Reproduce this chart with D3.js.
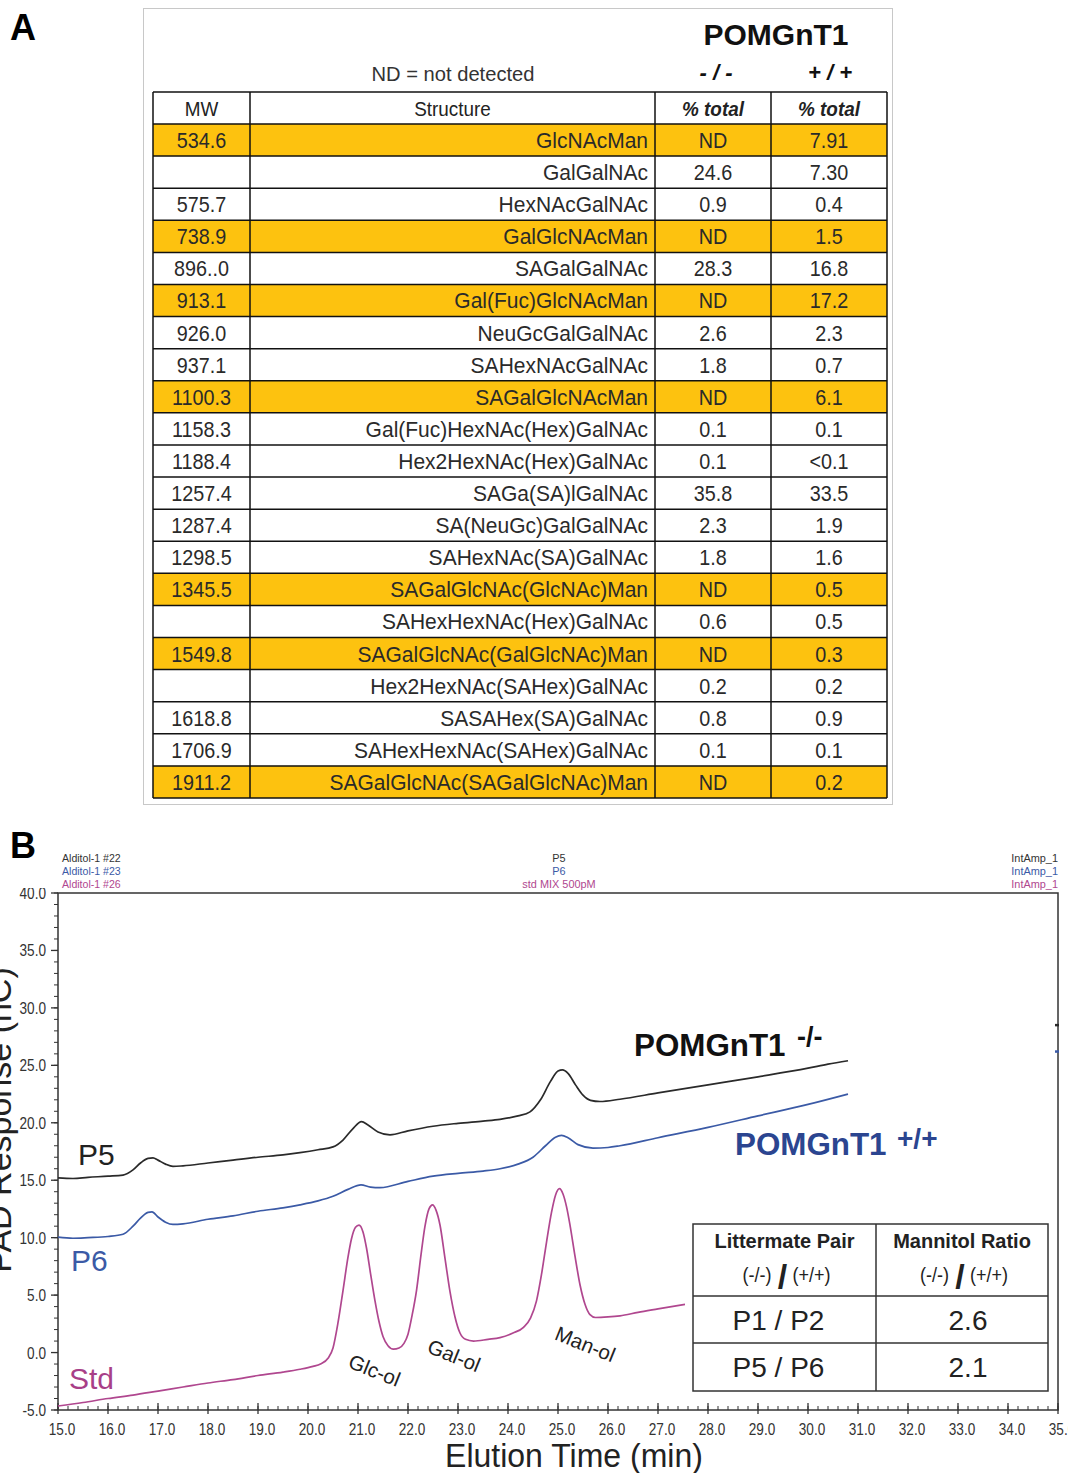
<!DOCTYPE html>
<html>
<head>
<meta charset="utf-8">
<script src="https://cdn.jsdelivr.net/npm/d3@7"></script>
<style>
  html, body { margin: 0; padding: 0; background: #fff; }
  svg { display: block; font-family: "Liberation Sans", Arial, Helvetica, sans-serif; }
</style>
</head>
<body>
<svg id="fig" width="1068" height="1473"></svg>
<script>
// ---------- Panel A: glycan table ----------
const mwValues = ["534.6", "", "575.7", "738.9", "896..0", "913.1", "926.0", "937.1", "1100.3", "1158.3",
  "1188.4", "1257.4", "1287.4", "1298.5", "1345.5", "", "1549.8", "", "1618.8", "1706.9", "1911.2"];
const structures = ["GlcNAcMan", "GalGalNAc", "HexNAcGalNAc", "GalGlcNAcMan", "SAGalGalNAc",
  "Gal(Fuc)GlcNAcMan", "NeuGcGalGalNAc", "SAHexNAcGalNAc", "SAGalGlcNAcMan",
  "Gal(Fuc)HexNAc(Hex)GalNAc", "Hex2HexNAc(Hex)GalNAc", "SAGa(SA)lGalNAc", "SA(NeuGc)GalGalNAc",
  "SAHexNAc(SA)GalNAc", "SAGalGlcNAc(GlcNAc)Man", "SAHexHexNAc(Hex)GalNAc",
  "SAGalGlcNAc(GalGlcNAc)Man", "Hex2HexNAc(SAHex)GalNAc", "SASAHex(SA)GalNAc",
  "SAHexHexNAc(SAHex)GalNAc", "SAGalGlcNAc(SAGalGlcNAc)Man"];
const koPercent = ["ND", "24.6", "0.9", "ND", "28.3", "ND", "2.6", "1.8", "ND", "0.1", "0.1", "35.8",
  "2.3", "1.8", "ND", "0.6", "ND", "0.2", "0.8", "0.1", "ND"];
const wtPercent = ["7.91", "7.30", "0.4", "1.5", "16.8", "17.2", "2.3", "0.7", "6.1", "0.1", "<0.1",
  "33.5", "1.9", "1.6", "0.5", "0.5", "0.3", "0.2", "0.9", "0.1", "0.2"];
const tableHeaders = ["MW", "Structure", "% total", "% total"];

// ---------- Panel B: HPAEC-PAD traces, [elution time (min), response (nC)] ----------
const koTrace = [[15.0,15.2],[15.3,15.15],[15.6,15.25],[16.0,15.35],[16.3,15.45],[16.5,15.9],[16.65,16.5],
  [16.8,16.9],[16.9,16.95],[17.0,16.75],[17.15,16.4],[17.3,16.2],[17.5,16.25],[18.0,16.5],[18.5,16.75],
  [19.0,17.0],[19.5,17.2],[19.84,17.4],[20.2,17.65],[20.5,17.9],[20.7,18.5],[20.9,19.5],[21.07,20.1],
  [21.2,19.8],[21.4,19.2],[21.64,18.95],[22.0,19.3],[22.5,19.7],[23.0,19.95],[23.5,20.15],[23.84,20.3],
  [24.2,20.6],[24.44,20.95],[24.65,22.0],[24.85,23.6],[25.0,24.5],[25.09,24.6],[25.2,24.3],[25.35,23.3],
  [25.5,22.4],[25.65,21.95],[25.84,21.85],[26.24,22.05],[27.0,22.6],[28.0,23.3],[29.0,24.0],[30.0,24.75],
  [30.4,25.1],[30.8,25.4]];
const wtTrace = [[15.0,10.05],[15.3,9.95],[15.6,10.0],[16.0,10.1],[16.3,10.3],[16.5,11.0],[16.65,11.7],
  [16.8,12.2],[16.88,12.25],[17.0,11.8],[17.15,11.35],[17.3,11.15],[17.5,11.2],[18.0,11.6],[18.5,11.9],
  [19.0,12.3],[19.5,12.6],[19.84,12.86],[20.2,13.2],[20.5,13.6],[20.8,14.2],[21.06,14.6],[21.25,14.4],
  [21.44,14.35],[22.0,14.9],[22.5,15.35],[23.0,15.6],[23.5,15.8],[23.84,16.0],[24.2,16.4],[24.5,17.0],
  [24.75,18.0],[24.95,18.75],[25.07,18.9],[25.2,18.7],[25.4,18.1],[25.7,17.8],[26.0,17.85],[26.24,18.0],
  [27.0,18.7],[28.0,19.6],[29.0,20.6],[30.0,21.6],[30.8,22.5]];
const stdTrace = [[15.0,-4.65],[15.5,-4.35],[16.0,-4.0],[16.5,-3.7],[17.0,-3.35],[17.5,-3.0],[18.0,-2.65],
  [18.5,-2.35],[19.0,-2.0],[19.5,-1.7],[19.84,-1.45],[20.1,-1.2],[20.25,-1.0],[20.4,-0.5],[20.5,0.4],
  [20.6,2.6],[20.7,5.4],[20.8,8.3],[20.87,9.9],[20.95,10.9],[21.02,11.1],[21.1,10.5],[21.17,9.1],
  [21.25,6.9],[21.34,4.5],[21.42,2.7],[21.5,1.4],[21.6,0.6],[21.71,0.3],[21.82,0.4],[21.92,0.8],
  [22.0,1.6],[22.08,3.2],[22.17,5.4],[22.26,8.5],[22.34,11.0],[22.42,12.5],[22.49,12.85],[22.56,12.4],
  [22.64,11.1],[22.74,8.2],[22.84,5.3],[22.94,3.1],[23.04,1.7],[23.15,1.15],[23.31,1.0],[23.6,1.15],
  [23.84,1.3],[24.1,1.7],[24.31,2.2],[24.45,3.0],[24.57,4.5],[24.67,6.8],[24.77,9.6],[24.87,12.2],
  [24.95,13.7],[25.03,14.27],[25.1,13.8],[25.17,12.7],[25.24,11.1],[25.34,8.4],[25.44,5.9],[25.54,4.2],
  [25.64,3.3],[25.75,3.05],[26.0,3.1],[26.24,3.2],[26.6,3.5],[27.0,3.8],[27.54,4.2]];
// level of the P5 / P6 trace markers at the right border (35 min)
const endMarks = [[28.5, "#2a2a2a"], [26.2, "#3b5aa6"]];
const peakLabels = [["Glc-ol", 21.0], ["Gal-ol", 22.5], ["Man-ol", 25.05]];
const xTicks = d3.range(15, 35.001, 1);
const yTicks = d3.range(-5, 40.001, 5);
const pairLabels = ["P1 / P2", "P5 / P6"];
const mannitolRatios = ["2.6", "2.1"];

const svg = d3.select("#fig");
svg.append("rect").attr("width", 1068).attr("height", 1473).attr("fill", "#fff");

// text helper: horizontal squeeze lets glyph proportions follow the figure typography
function label(sel, x, y, s, o = {}) {
  return sel.append("text")
    .attr("transform", `translate(${x},${y}) scale(${o.sx || 1},1)` + (o.rotate ? ` rotate(${o.rotate})` : ""))
    .attr("text-anchor", o.anchor || "start")
    .attr("font-size", o.size || 16)
    .attr("font-weight", o.weight || "normal")
    .attr("font-style", o.style || "normal")
    .attr("fill", o.fill || "#222")
    .text(s);
}

// ===== Panel A =====
const A = svg.append("g");
label(A, 10, 40, "A", {size: 36, weight: "bold", fill: "#000"});
A.append("rect").attr("x", 143.5).attr("y", 8.5).attr("width", 749).attr("height", 796)
  .attr("fill", "none").attr("stroke", "#c8c8c8").attr("stroke-width", 1);

const colEdges = [153, 250, 655, 771, 887];
const headerTop = 92, headerBottom = 124;
const rowBand = d3.scaleBand().domain(d3.range(structures.length)).range([headerBottom, 798]);

label(A, 776, 45, "POMGnT1", {size: 30, weight: "bold", anchor: "middle", fill: "#111"});
label(A, 716, 80, "- / -", {size: 22, weight: "bold", style: "italic", anchor: "middle", fill: "#111"});
label(A, 830, 80, "+ / +", {size: 22, weight: "bold", style: "italic", anchor: "middle", fill: "#111"});
label(A, 453, 81, "ND = not detected", {size: 21, anchor: "middle", sx: 0.96, fill: "#333"});

// highlighted (mannose-containing) rows
A.selectAll("rect.hl").data(structures.map((s, i) => ({s, i})).filter(d => d.s.endsWith("Man")))
  .enter().append("rect").attr("class", "hl")
  .attr("x", colEdges[0]).attr("width", colEdges[4] - colEdges[0])
  .attr("y", d => rowBand(d.i)).attr("height", rowBand.bandwidth())
  .attr("fill", "#FDC20F");

// header cells
const headerX = [(colEdges[0] + colEdges[1]) / 2, (colEdges[1] + colEdges[2]) / 2,
  (colEdges[2] + colEdges[3]) / 2, (colEdges[3] + colEdges[4]) / 2];
tableHeaders.forEach((h, j) => {
  const pct = j >= 2;
  label(A, headerX[j], headerTop + 24, h, {size: 21, anchor: "middle", sx: 0.9,
    weight: pct ? "bold" : "normal", style: pct ? "italic" : "normal", fill: "#222"});
});

// body cells
structures.forEach((s, i) => {
  const y = rowBand(i) + 24;
  label(A, headerX[0], y, mwValues[i], {size: 22, anchor: "middle", sx: 0.9, fill: "#2a2a2a"});
  label(A, colEdges[2] - 7, y, s, {size: 22, anchor: "end", sx: 0.955, fill: "#2a2a2a"});
  label(A, headerX[2], y, koPercent[i], {size: 22, anchor: "middle", sx: 0.9, fill: "#2a2a2a"});
  label(A, headerX[3], y, wtPercent[i], {size: 22, anchor: "middle", sx: 0.9, fill: "#2a2a2a"});
});

// grid
const hLines = [headerTop, headerBottom].concat(d3.range(structures.length).map(i => rowBand(i) + rowBand.bandwidth()));
A.selectAll("line.h").data(hLines).enter().append("line")
  .attr("x1", colEdges[0]).attr("x2", colEdges[4]).attr("y1", d => d).attr("y2", d => d)
  .attr("stroke", "#111").attr("stroke-width", 1.5);
A.selectAll("line.v").data(colEdges).enter().append("line")
  .attr("x1", d => d).attr("x2", d => d).attr("y1", headerTop).attr("y2", 798)
  .attr("stroke", "#111").attr("stroke-width", 1.5);

// ===== Panel B =====
const B = svg.append("g");
const x = d3.scaleLinear().domain([15, 35]).range([58, 1058]);
const y = d3.scaleLinear().domain([-5, 40]).range([1410, 893]);

// y axis: minor ticks every 1, major every 5
B.selectAll("line.ym").data(d3.range(-5, 40.001, 1)).enter().append("line")
  .attr("x1", x(15) - 4).attr("x2", x(15)).attr("y1", d => y(d)).attr("y2", d => y(d))
  .attr("stroke", "#333").attr("stroke-width", 1);
B.selectAll("line.yM").data(yTicks).enter().append("line")
  .attr("x1", x(15) - 7).attr("x2", x(15)).attr("y1", d => y(d)).attr("y2", d => y(d))
  .attr("stroke", "#333").attr("stroke-width", 1.3);
yTicks.forEach(v => label(B, 46, y(v) + 6, v.toFixed(1), {size: 17, anchor: "end", sx: 0.8, fill: "#333"}));

// x axis: minor ticks every 0.2, major every 1
B.selectAll("line.xm").data(d3.range(15, 35.001, 0.2)).enter().append("line")
  .attr("x1", d => x(d)).attr("x2", d => x(d)).attr("y1", y(-5) - 4).attr("y2", y(-5))
  .attr("stroke", "#333").attr("stroke-width", 1);
B.selectAll("line.xM").data(xTicks).enter().append("line")
  .attr("x1", d => x(d)).attr("x2", d => x(d)).attr("y1", y(-5) - 7).attr("y2", y(-5) + 4)
  .attr("stroke", "#333").attr("stroke-width", 1.3);
xTicks.forEach(v => label(B, x(v) + 4, 1435, v.toFixed(1), {size: 17, anchor: "middle", sx: 0.8, fill: "#333"}));

// frame
B.append("rect").attr("x", x(15)).attr("y", y(40)).attr("width", x(35) - x(15)).attr("height", y(-5) - y(40))
  .attr("fill", "none").attr("stroke", "#333").attr("stroke-width", 1.5);
B.selectAll("line.end").data(endMarks).enter().append("line")
  .attr("x1", x(35) - 3).attr("x2", x(35) + 1).attr("y1", d => y(d[0])).attr("y2", d => y(d[0]))
  .attr("stroke", d => d[1]).attr("stroke-width", 2.5);

// mask above the frame (covers top of the 40.0 label), then header text
B.append("rect").attr("x", 0).attr("y", 835).attr("width", 1068).attr("height", 53).attr("fill", "#fff");
label(B, 10, 858, "B", {size: 36, weight: "bold", fill: "#000"});
const hdrColors = ["#333", "#3b5aa6", "#b0478f"];
[["Alditol-1 #22", "P5"], ["Alditol-1 #23", "P6"], ["Alditol-1 #26", "std MIX 500pM"]].forEach((r, i) => {
  const yy = 862 + i * 13;
  label(B, 62, yy, r[0], {size: 11.5, sx: 0.92, fill: hdrColors[i]});
  label(B, 559, yy, r[1], {size: 11.5, sx: 0.95, anchor: "middle", fill: hdrColors[i]});
  label(B, 1058, yy, "IntAmp_1", {size: 11.5, sx: 0.95, anchor: "end", fill: hdrColors[i]});
});

// axis titles
label(B, 574, 1467, "Elution Time (min)", {size: 33, anchor: "middle", sx: 0.97, fill: "#222"});
label(B, 11, 1120, "PAD Response (nC)", {size: 34, anchor: "middle", rotate: -90, fill: "#222"});

// traces
const line = d3.line().x(d => x(d[0])).y(d => y(d[1])).curve(d3.curveMonotoneX);
const traces = [[stdTrace, "#b0478f"], [wtTrace, "#3b5aa6"], [koTrace, "#2a2a2a"]];
B.selectAll("path.trace").data(traces).enter().append("path")
  .attr("d", d => line(d[0])).attr("fill", "none").attr("stroke", d => d[1]).attr("stroke-width", 1.7)
  .attr("stroke-linejoin", "round");

// trace labels
label(B, 78, 1165, "P5", {size: 30, fill: "#222"});
label(B, 71, 1271, "P6", {size: 30, fill: "#3b5aa6"});
label(B, 69, 1389, "Std", {size: 30, fill: "#a83f88"});
label(B, 634, 1056, "POMGnT1", {size: 32, fill: "#111", weight: "bold", sx: 0.98});
label(B, 797, 1046, "-/-", {size: 27, fill: "#111", weight: "bold"});
label(B, 735, 1155, "POMGnT1", {size: 32, fill: "#2b4590", weight: "bold", sx: 0.98});
label(B, 897, 1148, "+/+", {size: 28, fill: "#2b4590", weight: "bold"});

// peak labels, placed below each standard peak
const peakOffsets = {"Glc-ol": [-11, 1367], "Gal-ol": [-7, 1352], "Man-ol": [-7, 1339]};
peakLabels.forEach(([name, t]) => {
  const o = peakOffsets[name];
  label(B, x(t) + o[0], o[1], name, {size: 20.5, rotate: 22, fill: "#222"});
});

// mannitol ratio inset table
const L = B.append("g");
const lx = [693, 876, 1048], ly = [1224, 1296, 1343, 1391];
L.append("rect").attr("x", lx[0]).attr("y", ly[0]).attr("width", lx[2] - lx[0]).attr("height", ly[3] - ly[0])
  .attr("fill", "#fff").attr("stroke", "#333").attr("stroke-width", 1.5);
L.append("line").attr("x1", lx[1]).attr("x2", lx[1]).attr("y1", ly[0]).attr("y2", ly[3]).attr("stroke", "#333").attr("stroke-width", 1.5);
[ly[1], ly[2]].forEach(v => L.append("line").attr("x1", lx[0]).attr("x2", lx[2]).attr("y1", v).attr("y2", v)
  .attr("stroke", "#333").attr("stroke-width", 1.5));
const cx1 = (lx[0] + lx[1]) / 2, cx2 = (lx[1] + lx[2]) / 2;
label(L, cx1, 1248, "Littermate Pair", {size: 20, weight: "bold", anchor: "middle", fill: "#222"});
label(L, cx2, 1248, "Mannitol Ratio", {size: 20, weight: "bold", anchor: "middle", fill: "#222"});
[cx1, cx2].forEach(c => {
  label(L, c - 13, 1282, "(-/-)", {size: 20, anchor: "end", sx: 0.9, fill: "#222"});
  label(L, c - 2, 1288, "/", {size: 34, anchor: "middle", weight: "bold", fill: "#222"});
  label(L, c + 8, 1282, "(+/+)", {size: 20, anchor: "start", sx: 0.9, fill: "#222"});
});
pairLabels.forEach((p, i) => {
  const yy = (ly[i + 1] + ly[i + 2]) / 2 + 10;
  label(L, cx1 - 6, yy, p, {size: 28, anchor: "middle", fill: "#222"});
  label(L, cx2 + 6, yy, mannitolRatios[i], {size: 28, anchor: "middle", fill: "#222"});
});
</script>
</body>
</html>
